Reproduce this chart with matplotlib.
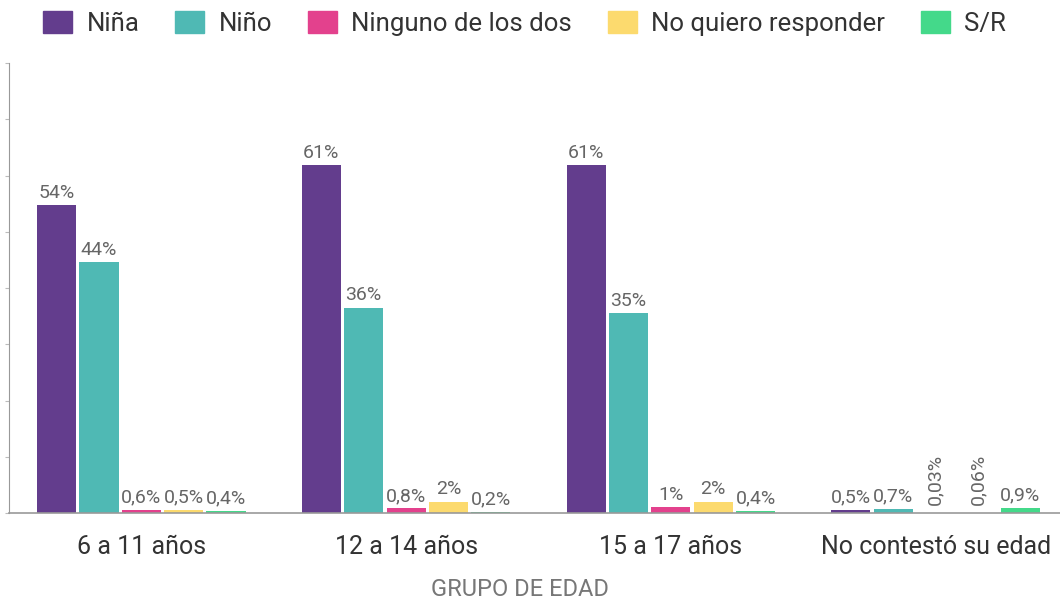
import numpy as np
import matplotlib
matplotlib.use("Agg")
import matplotlib.pyplot as plt
from matplotlib.patches import Patch

plt.rcParams['font.family'] = ['Roboto', 'DejaVu Sans']

grupos = ["6 a 11 años", "12 a 14 años", "15 a 17 años", "No contestó su edad"]
series = ["Niña", "Niño", "Ninguno de los dos", "No quiero responder", "S/R"]
nina = [54, 61, 61, 0.5]
nino = [44, 36, 35, 0.7]
ninguno = [0.6, 0.8, 1, 0.03]
no_responde = [0.5, 2, 2, 0.06]
sin_resp = [0.4, 0.2, 0.4, 0.9]
etiquetas = [
    ["54%", "61%", "61%", "0,5%"],
    ["44%", "36%", "35%", "0,7%"],
    ["0,6%", "0,8%", "1%", "0,03%"],
    ["0,5%", "2%", "2%", "0,06%"],
    ["0,4%", "0,2%", "0,4%", "0,9%"],
]
colores = ["#633d8d", "#4fb9b4", "#e3418d", "#fcda6e", "#44d98a"]

valores = [nina, nino, ninguno, no_responde, sin_resp]

fig = plt.figure(figsize=(10.6, 6.0), dpi=100)
ax = fig.add_axes([9 / 1060, 87 / 600, 1 - 9 / 1060, 450 / 600])

x = np.arange(len(grupos))
paso = 0.16
ancho = 0.148
ymax = 78.9

for i, (vals, col) in enumerate(zip(valores, colores)):
    pos = x + (i - 2) * paso
    ax.bar(pos, vals, width=ancho, color=col, zorder=2)
    for xp, v, lab in zip(pos, vals, etiquetas[i]):
        if v < 0.1:
            ax.text(xp, v + 1.3, lab, rotation=90, ha="center", va="bottom",
                    fontsize=14, color="#666666")
        else:
            ax.text(xp, v + 0.6, lab, ha="center", va="bottom",
                    fontsize=14, color="#666666")

ax.set_xlim(-0.5, 3.47)
ax.set_ylim(0, ymax)
ax.set_yticks(np.linspace(0, ymax, 9))
ax.set_yticklabels([])
ax.tick_params(axis="y", length=3, color="#bbbbbb", direction="out")
ax.set_xticks(x)
ax.set_xticklabels(grupos, fontsize=18, color="#333333")
ax.tick_params(axis="x", length=0, pad=16)

fig.text(520 / 1060, 1 - 590 / 600, "GRUPO DE EDAD", ha="center", va="center",
         fontsize=17, color="#777777")

for s in ["top", "right"]:
    ax.spines[s].set_visible(False)
ax.spines["left"].set_color("#999999")
ax.spines["bottom"].set_color("#999999")
ax.spines["bottom"].set_linewidth(1.2)

handles = [Patch(facecolor=c, edgecolor=c) for c in colores]
fig.legend(handles, series, loc="upper center", bbox_to_anchor=(0.495, 1.02),
           ncol=5, frameon=False, fontsize=18.5, handlelength=1.12, handleheight=0.95,
           columnspacing=1.4, handletextpad=0.56, labelcolor="#333333")

fig.savefig("out.png", dpi=100)
